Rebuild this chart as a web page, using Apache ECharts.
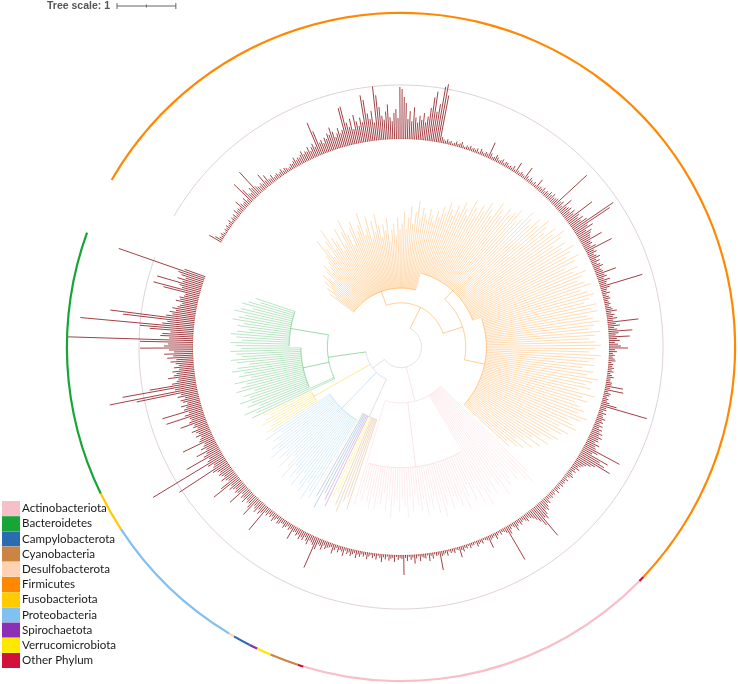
<!DOCTYPE html>
<html>
<head>
<meta charset="utf-8">
<title>Circular tree</title>
<script src="https://cdn.jsdelivr.net/npm/echarts@6/dist/echarts.min.js"></script>
<style>
html, body { margin: 0; padding: 0; background: #fff; }
#chart { width: 738px; height: 684px; }
</style>
</head>
<body>
<div id="chart"></div>
<script>
// all angles in degrees, clockwise, 0 = first Firmicutes leaf (just after the gap at upper left)

let phylum_names = ['Actinobacteriota', 'Bacteroidetes', 'Campylobacterota', 'Cyanobacteria', 'Desulfobacterota',
    'Firmicutes', 'Fusobacteriota', 'Proteobacteria', 'Spirochaetota', 'Verrucomicrobiota', 'Other Phylum'];
let phylum_colors = ['#f7bfc8', '#17a537', '#2b6cb0', '#cd8341', '#fdd3b3',
    '#ff8800', '#ffca00', '#80c1ef', '#8c2fb4', '#ffe800', '#d2103c'];

// outer colour strip, segment by segment
let ring_phylum = ['Firmicutes', 'Other Phylum', 'Actinobacteriota', 'Other Phylum', 'Cyanobacteria', 'Verrucomicrobiota',
    'Spirochaetota', 'Campylobacterota', 'Desulfobacterota', 'Proteobacteria', 'Fusobacteriota', 'Bacteroidetes', ''];
let ring_span = [193.5, 1, 62.5, 1, 5, 2.5, 1.5, 3, 1, 26, 7, 46, 10];

// dark red bars, one every 0.5 degree (height above the base circle)
let bars_q1 = [
    14, 8, 4, 3, 5, 3, 2, 4, 3, 5, 3, 4, 6, 3, 5, 4, 6, 3, 8, 5,
    6, 5, 12, 7, 5, 6, 9, 5, 25, 15, 8, 7, 12, 10, 30, 9, 7, 6, 8, 6,
    16, 7, 12, 6, 5, 8, 4, 5, 6, 4, 5, 7, 4, 6, 5, 3, 4, 6, 5, 7,
    10, 6, 8, 7, 9, 12, 8, 10, 9, 13, 8, 11, 14, 10, 35, 25, 12, 14, 10, 15,
    13, 18, 16, 23, 18, 12, 15, 20, 14, 17, 39, 40, 23, 18, 26, 15, 29, 22, 17, 25,
    20, 47, 42, 28, 22, 30, 18, 54, 45, 33, 24, 20, 28, 35, 22, 18, 26, 30, 21, 52,
    50, 42, 36, 20, 28, 18, 32, 22, 17, 24, 20, 27, 18, 24, 33, 44, 50, 30, 38, 56,
    59, 48, 6, 4, 3, 5, 3, 4, 2, 3, 5, 3, 4, 6, 3, 2, 4, 3, 5, 3,
    4, 3, 5, 2, 6, 4, 3, 5, 4, 17, 6, 3, 4, 7, 5, 3, 4, 6, 3, 5
];
let bars_q2 = [
    5, 3, 4, 3, 6, 3, 12, 4, 3, 5, 4, 3, 14, 5, 3, 6, 4, 3, 5, 3,
    11, 4, 5, 4, 7, 4, 6, 5, 8, 6, 9, 6, 7, 8, 45, 8, 10, 6, 17, 9,
    10, 12, 8, 13, 10, 32, 14, 11, 16, 12, 18, 49, 43, 15, 20, 11, 16, 14, 12, 11,
    23, 9, 10, 7, 12, 29, 8, 10, 6, 8, 11, 6, 9, 5, 8, 10, 6, 7, 8, 21,
    8, 10, 6, 12, 8, 7, 44, 9, 6, 5, 8, 4, 6, 7, 4, 5, 6, 4, 6, 7,
    11, 5, 8, 6, 10, 6, 31, 8, 12, 6, 9, 24, 10, 7, 21, 8, 11, 6, 9, 12,
    19, 6, 8, 4, 6, 4, 6, 7, 3, 5, 4, 6, 4, 6, 3, 5, 7, 4, 4, 6,
    6, 18, 5, 19, 4, 7, 6, 4, 6, 5, 8, 16, 48, 6, 7, 4, 8, 5, 6, 9,
    6, 8, 5, 9, 6, 10, 8, 12, 9, 13, 10, 11, 8, 14, 10, 12, 40, 16, 11, 30
];
let bars_q3 = [
    22, 28, 36, 20, 16, 12, 10, 8, 6, 9, 5, 7, 4, 6, 8, 5, 3, 6, 4, 5,
    4, 6, 3, 5, 4, 7, 3, 5, 4, 6, 5, 4, 8, 6, 9, 12, 10, 14, 18, 15,
    37, 22, 16, 12, 9, 7, 5, 8, 6, 4, 5, 7, 4, 6, 10, 5, 3, 5, 9, 38,
    6, 4, 3, 5, 2, 4, 7, 3, 4, 5, 13, 4, 3, 2, 5, 3, 4, 6, 2, 3,
    3, 5, 2, 4, 3, 6, 4, 11, 3, 2, 5, 3, 4, 2, 6, 3, 4, 5, 19, 3,
    4, 2, 6, 3, 8, 2, 5, 4, 3, 7, 2, 4, 9, 3, 5, 2, 6, 3, 20, 4,
    3, 5, 2, 7, 3, 4, 6, 2, 5, 3, 8, 4, 2, 6, 3, 5, 2, 4, 7, 3,
    5, 3, 6, 4, 8, 3, 5, 7, 4, 6, 3, 9, 5, 4, 7, 3, 6, 10, 4, 5,
    6, 8, 5, 10, 7, 6, 12, 33, 9, 7, 6, 11, 8, 5, 9, 7, 10, 6, 8, 5
];
let bars_q4 = [
    6, 15, 5, 7, 4, 6, 8, 5, 5, 7, 8, 4, 6, 9, 5, 7, 5, 8, 6, 30,
    9, 12, 8, 13, 10, 8, 22, 14, 10, 11, 9, 14, 10, 12, 8, 23, 11, 13, 10, 12,
    15, 11, 32, 21, 10, 12, 16, 11, 13, 15, 12, 14, 18, 57, 15, 13, 19, 82, 17, 14,
    39, 18, 14, 24, 12, 17, 13, 11, 34, 15, 13, 11, 16, 12, 14, 18, 11, 15, 13, 27,
    17, 14, 15, 39, 19, 14, 41, 18, 15, 20, 13, 17, 19, 14, 21, 17, 62, 89, 22, 75,
    47, 24, 19, 17, 27, 21, 18, 22, 15, 20, 15, 18, 23, 17, 26, 20, 29, 19, 24, 53,
    29, 25, 53, 125, 24, 33, 31, 23, 44, 54, 114, 32, 27, 72, 85, 29, 23, 26, 20, 24,
    19, 17, 15, 22, 18, 19, 15, 14, 37, 48, 19, 22, 46, 20, 26, 18, 23, 27, 91, 22
];

// tree leaves, one per degree: tip distance from the root (tree units)
let leaf_tips_a = [
    null, null, null, null, null, null, 1.5, 1.4, 1.6, 1.5,
    1.7, 1.6, 1.8, 1.7, 1.6, 1.8, 1.9, 1.7, 1.8, 1.9,
    2.0, 2.3, 2.1, 1.9, 2.2, 2.4, 2.0, 2.2, 2.1, 1.9,
    2.3, 2.0, 2.2, 2.4, 2.1, 1.9, 2.2, 2.3, 2.0, 2.1,
    2.2, 2.4, 2.0, 2.1, 2.3, 1.9, 2.2, 2.0, 2.3, 2.1,
    1.9, 2.1, 2.0, 2.2, 1.8, 2.0, 2.1, 1.9, 2.2, 2.0,
    2.1, 2.3, 2.0, 2.2, 2.4, 2.1, 2.3, 2.5, 2.2, 2.4,
    2.3, 2.2, 2.4, 2.3, 2.2, 2.4, 2.3, 2.5, 2.4, 2.6,
    2.5, 2.4, 2.6, 2.5, 2.7, 2.6, 2.5, 2.8, 2.7, 2.6,
    2.8, 2.7, 2.9, 2.8, 2.7, 3.0, 2.9, 2.8, 3.0, 2.9,
    3.0, 3.1, 2.9, 3.0, 3.2, 3.1, 3.0, 3.2, 3.1, 3.3,
    3.2, 3.1, 3.3, 3.2, 3.4, 3.3, 3.1, 3.3, 3.2, 3.4,
    3.3, 3.2, 3.4, 3.3, 3.1, 3.3, 3.2, 3.4, 3.3, 3.2,
    3.3, 3.4, 3.2, 3.3, 3.4, 3.3, 3.2, 3.4, 3.3, 3.4,
    3.2, 3.3, 3.4, 3.3, 3.2, 3.4, 3.3, 3.2, 3.3, 3.4,
    3.3, 3.2, 3.4, 3.3, 3.2, 3.3, 3.1, 3.3, 3.2, 3.4,
    3.3, 3.2, 3.3, 3.1, 3.4, 3.2, 3.3, 3.1, 3.2, 3.3,
    3.2, 3.4, 3.3, 3.1, 3.2
];
let leaf_tips_b = [
    3.3, 3.0, 3.2, 3.1, 2.9,
    3.1, 3.0, 2.8, 3.0, 2.7, 2.9, 2.6, 2.8, 2.5, 2.7,
    2.6, 2.4, 2.5, null, 3.0, 3.2, 3.1, 2.9, 3.0, 2.8,
    2.9, 3.0, 2.8, 3.1, 2.9, 2.7, 3.0, 2.8, 2.9, 3.1,
    2.8, 3.0, 2.7, 2.9, 2.6, 2.8, 3.0, 2.7, 2.9, 2.8,
    2.7, 2.9, 2.6, 2.8, 3.0, 2.7, 2.9, 2.6, 2.8, 2.7,
    2.9, 2.6, 2.8, 2.7, 2.5, 2.8, 2.6, 2.9, 2.7, 2.6,
    2.8, 2.6, 2.7, 2.9, 2.6, 2.8, 2.5, 2.7, 2.6, 2.8,
    2.6, 2.8, 2.7, 2.5, 2.7, 2.6, 2.8, null, 2.9, 2.7,
    2.8, 3.0, 2.9, 2.7, 2.8, 3.0, 2.9, 2.8, 3.1, 2.9,
    2.8, 3.0, 2.9, 3.1, 2.8, 3.0, 2.9, 2.7, 3.0, 2.8,
    2.9, 2.7, 3.0, 2.8, 2.6, 2.9, 2.7, 2.8, 2.6, 2.9,
    2.7, 2.8, 2.6, 2.7, 2.5, 2.8, 2.6, 2.7, 2.6, 2.5,
    2.7, 2.6, 2.5, 2.6, 2.8, 2.7, 2.9, 2.6, 2.8, 2.7,
    2.9, 2.7, 2.8, 2.6, 2.9, 2.8, 2.7, 2.9, 2.6, 2.8,
    2.7, 2.9, 2.8, 2.6, 2.8, 2.9, 2.7, 2.8, 2.9, 2.7,
    2.8, 2.9, 2.7, 2.8, 2.9, 2.8, 2.6, 2.8, 2.7, 2.9,
    2.8, 2.7, 2.9, 2.8, 2.6, 2.8, 2.7, 2.5, 2.6, null
];

// internal clades: angular range, distance from root, parent clade
let node_start = [0, 6, 6, 75, 75, 130, 193, 210, 258, 258, 271, 297, 304, 306, 330];
let node_end = [350, 193, 75, 193, 130, 193, 258, 256, 350, 271, 297, 304, 350, 330, 349];
let node_radius = [0.35, 0.75, 1.0, 1.1, 1.3, 1.45, 0.95, 2.05, 0.6, 1.3, 1.45, 1.7, 1.25, 1.7, 1.9];
let node_parent = [-1, 0, 1, 1, 3, 3, 0, 6, 0, 8, 8, 8, 8, 12, 12];

let tree_center = [401, 347];
let tree_radius_px = 206;
let tree_max = 3.5;


let bars = bars_q1.concat(bars_q2, bars_q3, bars_q4);
let leaf_tips = leaf_tips_a.concat(leaf_tips_b);

let ring_end = [];
let acc = 0;
ring_span.forEach(function (s) {
    acc += s;
    ring_end.push(acc);
});

function phylum_at(p) {
    for (var i = 0; i < ring_end.length; i++) {
        if (p < ring_end[i]) return ring_phylum[i];
    }
    return '';
}

function colour_of(name) {
    var i = phylum_names.indexOf(name);
    return i < 0 ? '#b8b4c8' : phylum_colors[i];
}

function deepest_node(p) {
    var best = 0;
    node_radius.forEach(function (r, n) {
        if (p >= node_start[n] && p < node_end[n] && r > node_radius[best]) best = n;
    });
    return best;
}

// attach the leaves
let node_points = node_radius.map(() => []);
let node_phyla = node_radius.map(() => ({}));
let leaf_data = [];
leaf_tips.forEach(function (tip, i) {
    if (tip == null) return;
    var p = i + 0.5;
    var n = deepest_node(p);
    var ph = phylum_at(p);
    node_points[n].push(p);
    node_phyla[n][ph] = true;
    leaf_data.push({ value: [tip, p, node_radius[n]], colour: colour_of(ph) });
});

// arcs of the clades, deepest first
let order = node_radius.map((r, n) => n).sort((a, b) => node_radius[b] - node_radius[a]);
let node_data = [];
order.forEach(function (n) {
    var pts = node_points[n];
    var lo = Math.min.apply(null, pts);
    var hi = Math.max.apply(null, pts);
    var mid = (lo + hi) / 2;
    var par = node_parent[n];
    var names = Object.keys(node_phyla[n]);
    if (par >= 0) {
        node_points[par].push(mid);
        names.forEach(function (k) { node_phyla[par][k] = true; });
    }
    var col = names.length == 1 ? colour_of(names[0]) : '#b8b4c8';
    node_data.push({
        value: [node_radius[n], lo, hi, par >= 0 ? node_radius[par] : node_radius[n], mid],
        colour: col
    });
});

let bar_data = bars.map((h, k) => [h, k * 0.5 + 0.25]);

// thin reference circles on the bar track
let circle_level = [54, 0.5];
let circle_colours = ['#d6c3cf', '#f6d3bd'];
let circle_data = circle_level.map(v => [v, 0, 350]);


function arc_points(api, r, p0, p1) {
    var pts = [];
    for (var p = p0; p < p1; p += 0.5) pts.push(api.coord([r, p]));
    pts.push(api.coord([r, p1]));
    return pts;
}

let ring_series = ring_phylum.map(function (name, i) {
    return {
        name: name,
        type: 'bar',
        coordinateSystem: 'polar',
        polarIndex: 2,
        stack: 'ring',
        barWidth: '100%',
        silent: true,
        data: [ring_span[i]],
        itemStyle: { color: name ? colour_of(name) : 'rgba(0,0,0,0)' }
    };
});

let unit_px = tree_radius_px / tree_max;
let scale_x = 117, scale_y = 6;
let tick_style = { stroke: '#666', lineWidth: 1 };

let chart = echarts.init(document.getElementById('chart'));

chart.setOption({
    animation: false,
    backgroundColor: '#ffffff',
    polar: [
        { center: tree_center, radius: [0, tree_radius_px] },
        { center: tree_center, radius: [208, 334] },
        { center: tree_center, radius: [333, 335.2] }
    ],
    angleAxis: [0, 1, 2].map(i => ({
        polarIndex: i, type: 'value', min: 0, max: 360, startAngle: 150, clockwise: true, show: false
    })),
    radiusAxis: [
        { polarIndex: 0, type: 'value', min: 0, max: tree_max, show: false },
        { polarIndex: 1, type: 'value', min: 0, max: 126, show: false },
        { polarIndex: 2, type: 'category', data: ['ring'], show: false }
    ],
    legend: {
        data: phylum_names,
        orient: 'vertical',
        left: 2,
        top: 501,
        padding: 0,
        itemWidth: 18,
        itemHeight: 15,
        itemGap: 0.2,
        icon: 'rect',
        selectedMode: false,
        textStyle: { fontFamily: 'Lato', fontSize: 11.6, color: '#1a1a1a', lineHeight: 15, padding: [0, 0, 0, -3] }
    },
    graphic: [
        {
            type: 'text', left: 47, top: 1,
            style: { text: 'Tree scale: 1', fontFamily: 'Liberation Sans', fontWeight: 'bold', fontSize: 10.5, fill: '#555' }
        },
        { type: 'line', shape: { x1: scale_x, y1: scale_y, x2: scale_x + unit_px, y2: scale_y }, style: tick_style },
        { type: 'line', shape: { x1: scale_x, y1: scale_y - 3, x2: scale_x, y2: scale_y + 3 }, style: tick_style },
        { type: 'line', shape: { x1: scale_x + unit_px, y1: scale_y - 3, x2: scale_x + unit_px, y2: scale_y + 3 }, style: tick_style },
        { type: 'line', shape: { x1: scale_x + unit_px / 2, y1: scale_y - 1.5, x2: scale_x + unit_px / 2, y2: scale_y + 1.5 }, style: tick_style }
    ],
    series: ring_series.concat([
        {
            type: 'custom',
            coordinateSystem: 'polar',
            polarIndex: 1,
            silent: true,
            data: circle_data,
            renderItem: function (params, api) {
                return {
                    type: 'polyline',
                    shape: { points: arc_points(api, api.value(0), api.value(1), api.value(2)) },
                    style: { stroke: circle_colours[params.dataIndex], fill: 'none', lineWidth: 0.8 }
                };
            }
        },
        {
            type: 'custom',
            coordinateSystem: 'polar',
            polarIndex: 1,
            silent: true,
            data: bar_data,
            renderItem: function (params, api) {
                var a = api.coord([0, api.value(1)]);
                var b = api.coord([api.value(0), api.value(1)]);
                return {
                    type: 'line',
                    shape: { x1: a[0], y1: a[1], x2: b[0], y2: b[1] },
                    style: { stroke: '#8c0f15', lineWidth: 0.8, opacity: 1 }
                };
            }
        },
        {
            type: 'custom',
            coordinateSystem: 'polar',
            polarIndex: 0,
            silent: true,
            data: leaf_data.map(d => d.value),
            renderItem: function (params, api) {
                var a = api.coord([api.value(2), api.value(1)]);
                var b = api.coord([api.value(0), api.value(1)]);
                return {
                    type: 'line',
                    shape: { x1: a[0], y1: a[1], x2: b[0], y2: b[1] },
                    style: { stroke: leaf_data[params.dataIndex].colour, lineWidth: 0.6, opacity: 0.5 }
                };
            }
        },
        {
            type: 'custom',
            coordinateSystem: 'polar',
            polarIndex: 0,
            silent: true,
            data: node_data.map(d => d.value),
            renderItem: function (params, api) {
                var col = node_data[params.dataIndex].colour;
                var r = api.value(0), mid = api.value(4);
                var s0 = api.coord([api.value(3), mid]);
                var s1 = api.coord([r, mid]);
                return {
                    type: 'group',
                    children: [
                        {
                            type: 'polyline',
                            shape: { points: arc_points(api, r, api.value(1), api.value(2)) },
                            style: { stroke: col, fill: 'none', lineWidth: 0.6, opacity: 0.7 }
                        },
                        {
                            type: 'line',
                            shape: { x1: s0[0], y1: s0[1], x2: s1[0], y2: s1[1] },
                            style: { stroke: col, lineWidth: 0.6, opacity: 0.7 }
                        }
                    ]
                };
            }
        }
    ])
});
</script>
</body>
</html>
